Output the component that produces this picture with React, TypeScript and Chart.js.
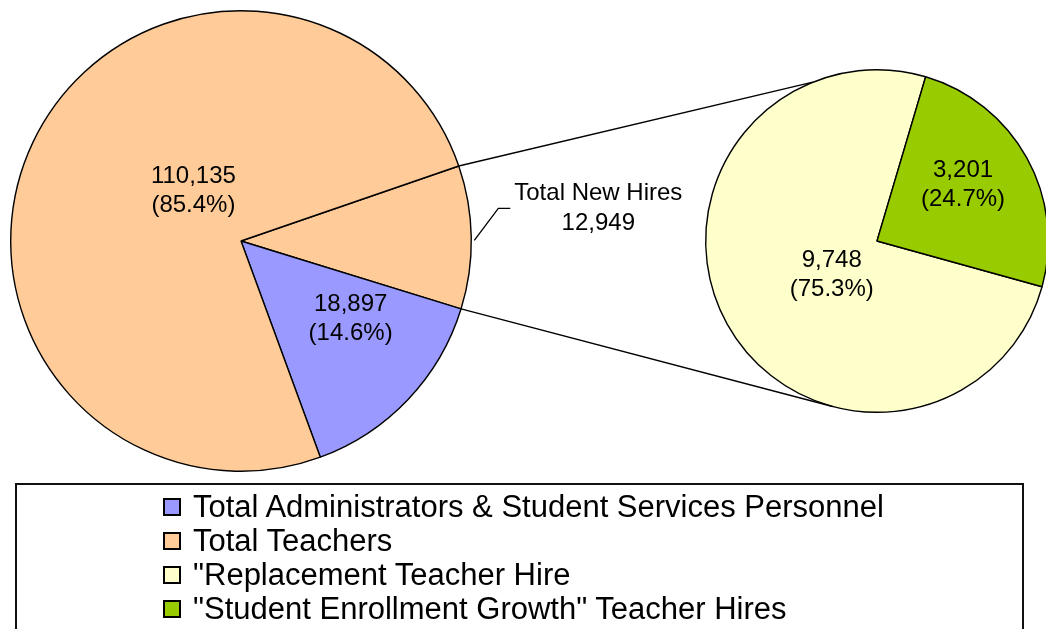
import React, { useEffect, useRef } from 'react';
import { Chart, registerables } from 'chart.js';

Chart.register(...registerables);

// ---- data ----
const totalTeachers = 110135;
const totalAdmin = 18897;
const hireCategories = ['"Replacement Teacher Hire', '"Student Enrollment Growth" Teacher Hires'];
const hireValues = [9748, 3201];
const newHiresLabel = 'Total New Hires';
const leftCategories = [newHiresLabel, 'Total Administrators & Student Services Personnel', 'Total Teachers'];
const legendLabels = [
  'Total Administrators & Student Services Personnel',
  'Total Teachers',
  '"Replacement Teacher Hire',
  '"Student Enrollment Growth" Teacher Hires',
];

// ---- styles ----
const C_ADMIN = '#9999FF';
const C_TEACH = '#FFCC99';
const C_REPL = '#FFFFCC';
const C_GROW = '#99CC00';
const legendColors = [C_ADMIN, C_TEACH, C_REPL, C_GROW];
const FONT = '24px "Liberation Sans", Arial, Helvetica, sans-serif';
const CANVAS_W = 1100;
const CANVAS_H = 629;

const fmt = (v: number) => v.toLocaleString('en-US');
const pct = (v: number, t: number) => '(' + ((v / t) * 100).toFixed(1) + '%)';

type Spec = { lines: string[]; shift: number; frac: number } | null;

const makeLabelPlugin = (specs: Spec[]) => ({
  id: 'sliceLabels',
  afterDatasetsDraw(chart: any) {
    const ctx = chart.ctx;
    const meta = chart.getDatasetMeta(0);
    ctx.save();
    ctx.font = FONT;
    ctx.fillStyle = '#000';
    ctx.textAlign = 'center';
    ctx.textBaseline = 'alphabetic';
    meta.data.forEach((arc: any, i: number) => {
      const s = specs[i];
      if (!s) return;
      const { x, y, startAngle, endAngle, outerRadius } = arc.getProps(
        ['x', 'y', 'startAngle', 'endAngle', 'outerRadius'],
        true
      );
      const a = (startAngle + endAngle) / 2 + (s.shift * Math.PI) / 180;
      const cx = x + Math.cos(a) * outerRadius * s.frac;
      const cy = y + Math.sin(a) * outerRadius * s.frac;
      ctx.fillText(s.lines[0], cx, cy - 14.5);
      ctx.fillText(s.lines[1], cx, cy + 14.5);
    });
    ctx.restore();
  },
});

export default function App() {
  const leftRef = useRef<HTMLCanvasElement | null>(null);
  const rightRef = useRef<HTMLCanvasElement | null>(null);

  useEffect(() => {
    if (!leftRef.current || !rightRef.current) return;
    const newHires = hireValues.reduce((a, b) => a + b, 0);
    const leftTotal = totalTeachers + totalAdmin;
    const leftValues = [newHires, totalAdmin, totalTeachers - newHires];

    const calloutPlugin = {
      id: 'newHiresCallout',
      afterDatasetsDraw(chart: any) {
        const ctx = chart.ctx;
        const arc: any = chart.getDatasetMeta(0).data[0];
        const { x, y, startAngle, endAngle, outerRadius } = arc.getProps(
          ['x', 'y', 'startAngle', 'endAngle', 'outerRadius'],
          true
        );
        const a = (startAngle + endAngle) / 2 + (0.8 * Math.PI) / 180;
        const sx = x + Math.cos(a) * (outerRadius + 3);
        const sy = y + Math.sin(a) * (outerRadius + 3);
        const ex = sx + 24;
        const ey = sy - 32;
        ctx.save();
        ctx.strokeStyle = '#000';
        ctx.lineWidth = 1.3;
        ctx.beginPath();
        ctx.moveTo(sx, sy);
        ctx.lineTo(ex, ey);
        ctx.lineTo(ex + 12, ey);
        ctx.stroke();
        ctx.font = FONT;
        ctx.fillStyle = '#000';
        ctx.textAlign = 'center';
        ctx.fillText(leftCategories[0], ex + 100, ey - 8);
        ctx.fillText(fmt(newHires), ex + 100, ey + 22);
        ctx.restore();
      },
    };

    const left = new Chart(leftRef.current, {
      type: 'pie',
      data: {
        labels: leftCategories,
        datasets: [
          {
            data: leftValues,
            backgroundColor: [C_TEACH, C_ADMIN, C_TEACH],
            borderColor: '#000',
            borderWidth: 1.4,
          },
        ],
      },
      options: {
        responsive: false,
        animation: false,
        events: [],
        rotation: 71,
        layout: { padding: { left: 10, top: 10, right: CANVAS_W - 472, bottom: CANVAS_H - 472 } },
        plugins: { legend: { display: false }, tooltip: { enabled: false } },
      } as any,
      plugins: [
        makeLabelPlugin([
          null,
          { lines: [fmt(totalAdmin), pct(totalAdmin, leftTotal)], shift: -6, frac: 0.6 },
          { lines: [fmt(totalTeachers), pct(totalTeachers, leftTotal)], shift: 17, frac: 0.28 },
        ]),
        calloutPlugin,
      ],
    });

    const connectorPlugin = {
      id: 'connectors',
      afterDatasetsDraw(chart: any) {
        const ctx = chart.ctx;
        const la: any = left.getDatasetMeta(0).data[0];
        const lp = la.getProps(['x', 'y', 'startAngle', 'endAngle', 'outerRadius'], true);
        const ra: any = chart.getDatasetMeta(0).data[0];
        const rp = ra.getProps(['x', 'y', 'outerRadius'], true);
        const up = (-112 * Math.PI) / 180;
        const dn = (105 * Math.PI) / 180;
        ctx.save();
        ctx.strokeStyle = '#000';
        ctx.lineWidth = 1.4;
        ctx.beginPath();
        ctx.moveTo(lp.x + Math.cos(lp.startAngle) * lp.outerRadius, lp.y + Math.sin(lp.startAngle) * lp.outerRadius);
        ctx.lineTo(rp.x + Math.cos(up) * rp.outerRadius, rp.y + Math.sin(up) * rp.outerRadius);
        ctx.moveTo(lp.x + Math.cos(lp.endAngle) * lp.outerRadius, lp.y + Math.sin(lp.endAngle) * lp.outerRadius);
        ctx.lineTo(rp.x + Math.cos(dn) * rp.outerRadius, rp.y + Math.sin(dn) * rp.outerRadius);
        ctx.stroke();
        ctx.restore();
      },
    };

    const right = new Chart(rightRef.current, {
      type: 'pie',
      data: {
        labels: hireCategories,
        datasets: [
          {
            data: hireValues,
            backgroundColor: [C_REPL, C_GROW],
            borderColor: '#000',
            borderWidth: 1.4,
          },
        ],
      },
      options: {
        responsive: false,
        animation: false,
        events: [],
        rotation: 105.5,
        layout: { padding: { left: 705, top: 69, right: CANVAS_W - 1049, bottom: CANVAS_H - 413 } },
        plugins: { legend: { display: false }, tooltip: { enabled: false } },
      } as any,
      plugins: [
        makeLabelPlugin([
          { lines: [fmt(hireValues[0]), pct(hireValues[0], newHires)], shift: -12.7, frac: 0.354 },
          { lines: [fmt(hireValues[1]), pct(hireValues[1], newHires)], shift: -1, frac: 0.58 },
        ]),
        connectorPlugin,
      ],
    });

    return () => {
      right.destroy();
      left.destroy();
    };
  }, []);

  const canvasStyle: React.CSSProperties = {
    position: 'absolute',
    left: 0,
    top: 0,
    width: CANVAS_W,
    height: CANVAS_H,
  };

  return (
    <div
      style={{
        position: 'fixed',
        left: 0,
        top: 0,
        width: 1046,
        height: 629,
        overflow: 'hidden',
        background: '#fff',
      }}
    >
      <canvas ref={leftRef} width={CANVAS_W} height={CANVAS_H} style={canvasStyle} />
      <canvas ref={rightRef} width={CANVAS_W} height={CANVAS_H} style={canvasStyle} />
      <div
        style={{
          position: 'absolute',
          left: 15,
          top: 483,
          width: 1009,
          height: 200,
          boxSizing: 'border-box',
          border: '2px solid #111',
          paddingTop: 5,
          paddingLeft: 146,
          fontFamily: '"Liberation Sans", Arial, Helvetica, sans-serif',
          fontSize: 31,
          color: '#000',
        }}
      >
        {legendLabels.map((t, i) => (
          <div key={i} style={{ display: 'flex', alignItems: 'flex-start', height: 34, lineHeight: '34px', whiteSpace: 'nowrap' }}>
            <span
              style={{
                display: 'inline-block',
                width: 18,
                height: 18,
                boxSizing: 'border-box',
                border: '2px solid #000',
                background: legendColors[i],
                marginTop: 8,
                marginRight: 12,
                flex: '0 0 auto',
              }}
            />
            <span>{t}</span>
          </div>
        ))}
      </div>
    </div>
  );
}
